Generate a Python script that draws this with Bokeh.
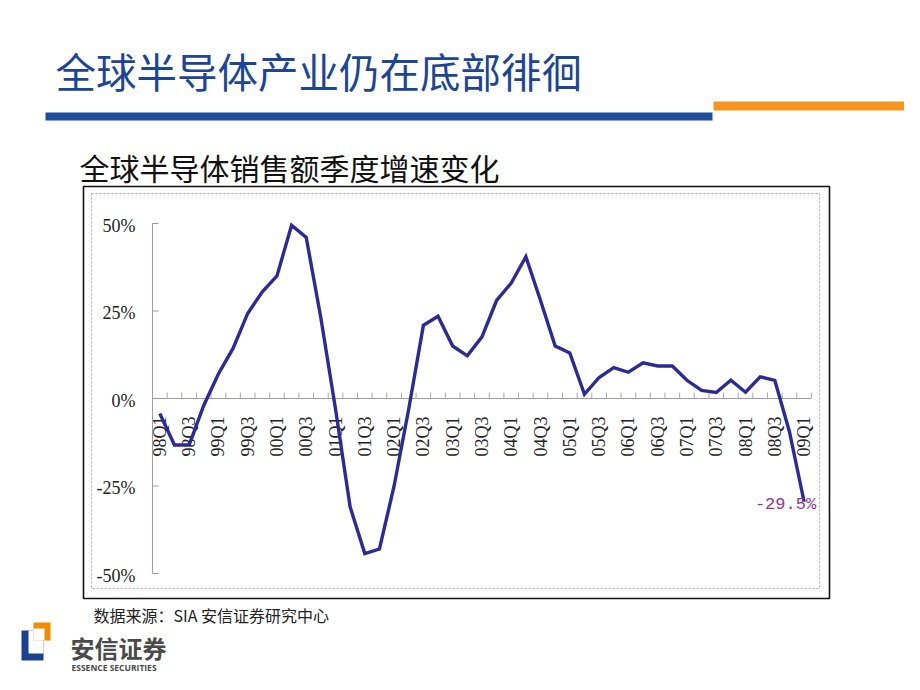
from math import pi
from bokeh.plotting import figure
from bokeh.models import Range1d
from bokeh.core.properties import value
from bokeh.embed import file_html
from bokeh.resources import INLINE

# ---------------- data ----------------
quarters = ["98Q1", "98Q2", "98Q3", "98Q4",
            "99Q1", "99Q2", "99Q3", "99Q4",
            "00Q1", "00Q2", "00Q3", "00Q4",
            "01Q1", "01Q2", "01Q3", "01Q4",
            "02Q1", "02Q2", "02Q3", "02Q4",
            "03Q1", "03Q2", "03Q3", "03Q4",
            "04Q1", "04Q2", "04Q3", "04Q4",
            "05Q1", "05Q2", "05Q3", "05Q4",
            "06Q1", "06Q2", "06Q3", "06Q4",
            "07Q1", "07Q2", "07Q3", "07Q4",
            "08Q1", "08Q2", "08Q3", "08Q4",
            "09Q1"]
growth = [-4.3, -13.3, -13.3, -2.0,
          7.0, 14.3, 24.3, 30.5,
          35.0, 49.5, 46.0, 23.0,
          -3.0, -31.0, -44.3, -43.0,
          -25.0, -3.0, 20.9, 23.5,
          15.0, 12.2, 17.6, 28.0,
          33.0, 40.5, 28.0, 15.0,
          13.0, 1.2, 6.0, 8.8,
          7.5, 10.2, 9.3, 9.3,
          5.2, 2.3, 1.7, 5.2,
          1.8, 6.2, 5.2, -9.5,
          -29.5]
y_ticks = [50, 25, 0, -25, -50]
y_tick_labels = ["50%", "25%", "0%", "-25%", "-50%"]
last_label = "-29.5%"

title_text = "全球半导体产业仍在底部徘徊"
subtitle_text = "全球半导体销售额季度增速变化"
source_text = "数据来源：SIA 安信证券研究中心"

idx = list(range(len(quarters)))

# ---------------- figure (canvas coordinates = picture pixels) ----------------
W, H = 904, 674
p = figure(width=W, height=H,
           x_range=Range1d(0, W), y_range=Range1d(H, 0),
           output_backend="svg", toolbar_location=None,
           min_border=0, x_axis_location=None, y_axis_location=None)
p.outline_line_color = None
p.background_fill_color = "white"
p.border_fill_color = "white"
for g in p.grid:
    g.visible = False

# data ranges placed where the chart's plotting area sits
x0_px, dx_px = 159.3, 14.643   # centre of first quarter, spacing
zero_px, dy_px = 398.0, 3.5     # y of 0%, px per percent
p.extra_x_ranges = {"q": Range1d((0 - x0_px) / dx_px, (W - x0_px) / dx_px)}
p.extra_y_ranges = {"pct": Range1d((zero_px - H) / dy_px, (zero_px - 0) / dy_px)}

# ---------------- slide decoration ----------------
cjk = value("Noto Sans CJK SC")
p.text(x=[55], y=[70], text=[title_text], text_font=cjk, text_font_size="40.5px",
       text_color="#1B4596", text_baseline="middle", text_align="left")
p.quad(left=[45], right=[712], top=[112], bottom=[120], fill_color="#1E4D9B", line_color=None)
p.quad(left=[713], right=[920], top=[101], bottom=[110], fill_color="#F7941D", line_color=None)

p.text(x=[79], y=[166], text=[subtitle_text], text_font=cjk, text_font_size="30px",
       text_color="#111111", text_baseline="middle", text_align="left")

# chart frames
p.quad(left=[83], right=[829], top=[186], bottom=[598], fill_color=None,
       line_color="#111111", line_width=1.6)
p.quad(left=[91], right=[819], top=[193], bottom=[588], fill_color=None,
       line_color="#AAAAAA", line_width=1, line_dash="2 2")

p.text(x=[93], y=[614], text=[source_text], text_font=cjk, text_font_size="16px",
       text_color="#222222", text_baseline="middle", text_align="left")

# logo
p.quad(left=[21], right=[43], top=[630], bottom=[660], fill_color="#1C3F8F", line_color=None)
p.quad(left=[28], right=[43], top=[630], bottom=[653], fill_color="white", line_color=None)
p.quad(left=[33], right=[50], top=[622], bottom=[640], fill_color="#F28C00", line_color=None)
p.quad(left=[33], right=[44], top=[628], bottom=[640], fill_color="white", line_color=None)
p.text(x=[70], y=[647], text=["安信证券"], text_font=cjk, text_font_size="24px",
       text_color="#4A4A4A", text_baseline="middle", text_align="left", text_font_style="bold")
p.text(x=[71], y=[667], text=["ESSENCE SECURITIES"], text_font=value("Open Sans"),
       text_font_size="8.5px", text_color="#4A4A4A", text_baseline="middle",
       text_align="left", text_font_style="bold")

# ---------------- chart axes (drawn with the data scales) ----------------
kw = dict(x_range_name="q", y_range_name="pct")
axis_col = "#9A9AA8"
left_edge = -0.5
right_edge = len(quarters) - 0.5
# y axis line and inward ticks
p.segment(x0=[left_edge], y0=[min(y_ticks)], x1=[left_edge], y1=[max(y_ticks)],
          line_color=axis_col, line_width=1, **kw)
p.segment(x0=[left_edge] * len(y_ticks), y0=y_ticks,
          x1=[left_edge + 6 / dx_px] * len(y_ticks), y1=y_ticks,
          line_color=axis_col, line_width=1, **kw)
# zero line with category-boundary ticks
p.segment(x0=[left_edge], y0=[0], x1=[right_edge], y1=[0],
          line_color=axis_col, line_width=1.2, **kw)
bnd = [i + 0.5 for i in idx]
p.segment(x0=bnd, y0=[0] * len(bnd), x1=bnd, y1=[6 / dy_px] * len(bnd),
          line_color="#AAAAAA", line_width=1, **kw)

serif = value("Liberation Serif")
p.text(x=[left_edge] * len(y_ticks), y=y_ticks, text=y_tick_labels,
       x_offset=-17, y_offset=2, text_align="right", text_baseline="middle",
       text_font=serif, text_font_size="18px", text_color="#222222", **kw)
p.text(x=idx[::2], y=[0] * len(idx[::2]), text=quarters[::2], angle=pi / 2,
       y_offset=18, text_align="right", text_baseline="middle",
       text_font=serif, text_font_size="18px", text_color="#222222", **kw)

# ---------------- the series ----------------
p.line(x=idx, y=growth, line_color="#2B2B96", line_width=3.4, line_join="miter", **kw)
p.text(x=[idx[-1]], y=[growth[-1]], text=[last_label], x_offset=12, y_offset=3,
       text_align="right", text_baseline="middle", text_font=value("Liberation Mono"),
       text_font_size="17px", text_color="#993399", **kw)

open("out.html", "w").write(file_html(p, INLINE))
